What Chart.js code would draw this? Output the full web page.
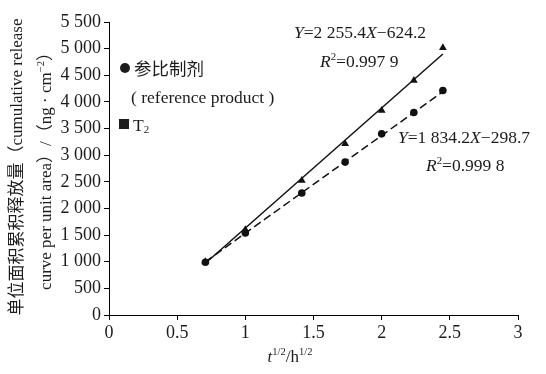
<!DOCTYPE html>
<html>
<head>
<meta charset="utf-8">
<script src="https://cdn.jsdelivr.net/npm/chart.js@4"></script>
<style>
    html, body { margin: 0; padding: 0; background: #fff; }
    #wrap { position: relative; width: 546px; height: 374px; }
</style>
</head>
<body>
<div id="wrap"><canvas id="releaseChart"></canvas></div>
<script>
// square root of sampling time (h^1/2)
const timeSqrt = [0.707, 1, 1.414, 1.732, 2, 2.236, 2.449];
// cumulative release per unit area (ng/cm2)
const refRelease = [990, 1540, 2290, 2870, 3400, 3800, 4215];
const t2Release = [1000, 1600, 2525, 3215, 3840, 4400, 5015];
// regression: [slope, intercept]
const refFit = [1834.2, -298.7];
const t2Fit = [2255.4, -624.2];
const fitRange = [0.707, 2.449];
const xTicks = [0, 0.5, 1, 1.5, 2, 2.5, 3];
const yMax = 5500;
const yStep = 500;

const SERIF = '"Liberation Serif", "DejaVu Serif", "Noto Sans CJK SC", serif';
const INK = '#1c1c1c';

function toPoints(xs, ys) {
    return xs.map((x, i) => ({ x: x, y: ys[i] }));
}
function fitLine(fit) {
    return fitRange.map(x => ({ x: x, y: fit[0] * x + fit[1] }));
}
function groupThousands(v) {
    const s = String(v);
    return v >= 1000 ? s.slice(0, s.length - 3) + ' ' + s.slice(-3) : s;
}

// draw text made of parts: {t, italic, sup, sub}
function richWidth(ctx, parts, size) {
    let w = 0;
    parts.forEach(p => {
        const fs = (p.sup || p.sub) ? size * 0.62 : size;
        ctx.font = (p.italic ? 'italic ' : '') + fs + 'px ' + SERIF;
        w += ctx.measureText(p.t).width;
    });
    return w;
}
function drawRich(ctx, parts, x, y, size) {
    let cx = x;
    parts.forEach(p => {
        const fs = (p.sup || p.sub) ? size * 0.62 : size;
        ctx.font = (p.italic ? 'italic ' : '') + fs + 'px ' + SERIF;
        let dy = 0;
        if (p.sup) dy = -size * 0.42;
        if (p.sub) dy = size * 0.12;
        ctx.fillText(p.t, cx, y + dy);
        cx += ctx.measureText(p.t).width;
    });
}

const textPlugin = {
    id: 'textPlugin',
    afterDraw(chart) {
        const ctx = chart.ctx;
        ctx.save();
        ctx.fillStyle = INK;
        ctx.textBaseline = 'alphabetic';
        ctx.textAlign = 'left';

        // legend
        ctx.beginPath();
        ctx.arc(125, 68, 5, 0, Math.PI * 2);
        ctx.fill();
        drawRich(ctx, [{ t: '参比制剂' }], 134, 75, 17.5);
        drawRich(ctx, [{ t: '( reference product )' }], 131, 103, 17.5);
        ctx.fillRect(119, 119, 10, 10);
        drawRich(ctx, [{ t: 'T' }, { t: '2', sub: true }], 133, 131, 17.5);

        // regression equations
        drawRich(ctx, [{ t: 'Y', italic: true }, { t: '=2 255.4' }, { t: 'X', italic: true }, { t: '\u2212624.2' }], 294, 38, 17.5);
        drawRich(ctx, [{ t: 'R', italic: true }, { t: '2', sup: true }, { t: '=0.997 9' }], 320, 67, 17.5);
        drawRich(ctx, [{ t: 'Y', italic: true }, { t: '=1 834.2' }, { t: 'X', italic: true }, { t: '\u2212298.7' }], 398, 143, 17.5);
        drawRich(ctx, [{ t: 'R', italic: true }, { t: '2', sup: true }, { t: '=0.999 8' }], 426, 171, 17.5);

        // x axis title
        const xt = [{ t: 't', italic: true }, { t: '1/2', sup: true }, { t: '/h' }, { t: '1/2', sup: true }];
        const xw = richWidth(ctx, xt, 17);
        drawRich(ctx, xt, 290 - xw / 2, 362, 17);

        // y axis title, two rotated lines
        const line1 = [{ t: '单位面积累积释放量（cumulative release' }];
        const line2 = [{ t: 'curve per unit area）/（ng · cm' }, { t: '\u22122', sup: true }, { t: '）' }];
        [[line1, 22, 17], [line2, 51, 17]].forEach(([parts, cx, size]) => {
            const w = richWidth(ctx, parts, size);
            ctx.save();
            ctx.translate(cx, 167);
            ctx.rotate(-Math.PI / 2);
            drawRich(ctx, parts, -w / 2, 0, size);
            ctx.restore();
        });
        ctx.restore();
    }
};

const ctx = document.getElementById('releaseChart').getContext('2d');
new Chart(ctx, {
    type: 'scatter',
    data: {
        datasets: [
            {
                label: 'T2 fit',
                data: fitLine(t2Fit),
                showLine: true,
                borderColor: '#111',
                borderWidth: 1.5,
                pointRadius: 0,
                fill: false
            },
            {
                label: 'ref fit',
                data: fitLine(refFit),
                showLine: true,
                borderColor: '#111',
                borderWidth: 1.5,
                borderDash: [8, 4],
                pointRadius: 0,
                fill: false
            },
            {
                label: 'T2',
                data: toPoints(timeSqrt, t2Release),
                pointStyle: 'triangle',
                pointRadius: 4.5,
                backgroundColor: '#111',
                borderColor: '#111',
                borderWidth: 0
            },
            {
                label: '参比制剂',
                data: toPoints(timeSqrt, refRelease),
                pointStyle: 'circle',
                pointRadius: 3.8,
                backgroundColor: '#111',
                borderColor: '#111',
                borderWidth: 0
            }
        ]
    },
    options: {
        responsive: true,
        maintainAspectRatio: false,
        animation: false,
        layout: { padding: { top: 22, right: 28, left: 0, bottom: 0 } },
        plugins: {
            legend: { display: false },
            tooltip: { enabled: false }
        },
        scales: {
            x: {
                type: 'linear',
                min: 0,
                max: 3,
                afterBuildTicks: scale => { scale.ticks = xTicks.map(v => ({ value: v })); },
                afterFit: scale => { scale.height = 59; },
                ticks: {
                    color: INK,
                    font: { family: SERIF, size: 18 },
                    padding: 2,
                    maxRotation: 0,
                    callback: v => String(v)
                },
                grid: { drawOnChartArea: false, tickLength: 5, color: '#000' },
                border: { color: '#000', width: 1 }
            },
            y: {
                min: 0,
                max: yMax,
                afterFit: scale => { scale.width = 109; },
                ticks: {
                    stepSize: yStep,
                    color: INK,
                    font: { family: SERIF, size: 18 },
                    padding: 3,
                    callback: v => groupThousands(v)
                },
                grid: { drawOnChartArea: false, tickLength: 5, color: '#000' },
                border: { color: '#000', width: 1 }
            }
        }
    },
    plugins: [textPlugin]
});
</script>
</body>
</html>
